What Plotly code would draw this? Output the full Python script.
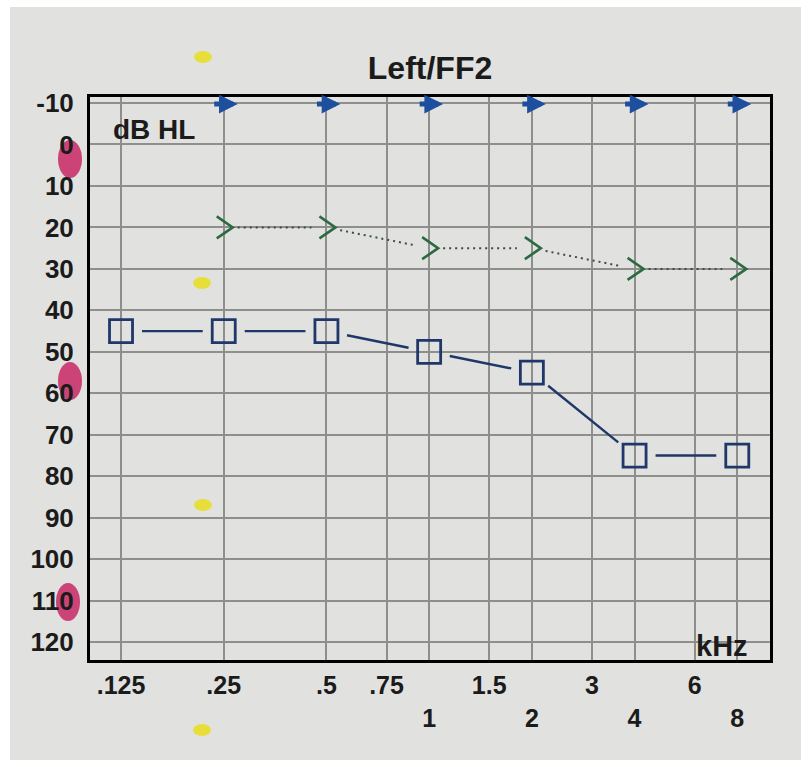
import math
import plotly.graph_objects as go

# Audiogram data (frequency in kHz, hearing level in dB HL)
freq_ac = [0.125, 0.25, 0.5, 1, 2, 4, 8]
level_ac = [45, 45, 45, 50, 55, 75, 75]

freq_bc = [0.25, 0.5, 1, 2, 4, 8]
level_bc = [20, 20, 25, 25, 30, 30]

freq_arrow = [0.25, 0.5, 1, 2, 4, 8]
level_arrow = -10

x_tickvals = [0.125, 0.25, 0.5, 0.75, 1, 1.5, 2, 3, 4, 6, 8]
x_ticktext = [".125", ".25", ".5", ".75", "<br>1", "1.5", "<br>2", "3", "<br>4", "6", "<br>8"]
y_tickvals = list(range(-10, 121, 10))
y_ticktext = [str(v) for v in y_tickvals]

# Canvas / plot geometry
W, H = 809, 767
ML, MR, MT, MB = 90, 39, 97, 107
PW, PH = W - ML - MR, H - MT - MB
X_RANGE = [-0.994, 0.999]          # log10(kHz)
Y_RANGE = [124.3, -11.45]          # reversed dB axis
KX = PW / (X_RANGE[1] - X_RANGE[0])   # px per decade
KY = PH / (Y_RANGE[0] - Y_RANGE[1])   # px per dB

PAPER = "#e1e2e0"
NAVY = "#1f3769"
BLUE = "#1d4f9e"
GREEN = "#2d6a42"
GRID = "#8e8f8d"
INK = "#1b1b1b"
FONT = "Liberation Sans, Arial"


def trimmed_segments(fs, vs, gap_start, gap_end):
    """Connecting segments that stop short of each symbol."""
    xs, ys = [], []
    for (f1, v1), (f2, v2) in zip(zip(fs, vs), zip(fs[1:], vs[1:])):
        u1, w1 = math.log10(f1) * KX, v1 * KY
        u2, w2 = math.log10(f2) * KX, v2 * KY
        d = math.hypot(u2 - u1, w2 - w1)
        du, dw = (u2 - u1) / d, (w2 - w1) / d
        a = (u1 + du * gap_start, w1 + dw * gap_start)
        b = (u2 - du * gap_end, w2 - dw * gap_end)
        xs += [10 ** (a[0] / KX), 10 ** (b[0] / KX), None]
        ys += [a[1] / KY, b[1] / KY, None]
    return xs, ys


def chevrons(fs, vs, left_px=7, tip_px=9, half_px=11):
    """'>' symbols drawn as small polylines around each point."""
    xs, ys = [], []
    for f, v in zip(fs, vs):
        xl = f * 10 ** (-left_px / KX)
        xt = f * 10 ** (tip_px / KX)
        dv = half_px / KY
        xs += [xl, xt, xl, None]
        ys += [v - dv, v, v + dv, None]
    return xs, ys


fig = go.Figure()

# Air conduction: connecting line + open squares
lx, ly = trimmed_segments(freq_ac, level_ac, 21, 21)
fig.add_trace(go.Scatter(x=lx, y=ly, mode="lines",
                         line=dict(color=NAVY, width=2.4),
                         hoverinfo="skip", showlegend=False))
fig.add_trace(go.Scatter(x=freq_ac, y=level_ac, mode="markers",
                         marker=dict(symbol="square-open", size=23,
                                     color=NAVY, line=dict(width=2.8, color=NAVY)),
                         showlegend=False))

# Bone conduction: dotted connecting line + '>' symbols
dx, dy = trimmed_segments(freq_bc, level_bc, 14, 15)
fig.add_trace(go.Scatter(x=dx, y=dy, mode="lines",
                         line=dict(color="#3a4d40", width=2, dash="2px,4px"),
                         hoverinfo="skip", showlegend=False))
cx, cy = chevrons(freq_bc, level_bc)
fig.add_trace(go.Scatter(x=cx, y=cy, mode="lines",
                         line=dict(color=GREEN, width=2.6),
                         hoverinfo="skip", showlegend=False))

# Arrows along the top row
annotations = []
for f in freq_arrow:
    annotations.append(dict(
        x=math.log10(f), y=level_arrow, xref="x", yref="y",
        text="", showarrow=True, ax=-25, ay=0, axref="pixel", ayref="pixel",
        xshift=14, yshift=-1, arrowhead=2, arrowsize=0.75, arrowwidth=5,
        arrowcolor=BLUE,
    ))

annotations += [
    dict(text="<b>dB HL</b>", xref="paper", yref="paper", x=21 / PW, y=(PH - 32) / PH,
         xanchor="left", yanchor="middle", showarrow=False,
         font=dict(family=FONT, size=28, color=INK)),
    dict(text="<b>kHz</b>", xref="paper", yref="paper", x=(PW - 20) / PW, y=14 / PH,
         xanchor="right", yanchor="middle", showarrow=False,
         font=dict(family=FONT, size=29, color=INK)),
]

# Paper sheet, pen marks
def px_rect(x0, y0, x1, y1):
    return dict(x0=(x0 - ML) / PW, x1=(x1 - ML) / PW,
                y0=(MT + PH - y1) / PH, y1=(MT + PH - y0) / PH)

shapes = [dict(type="rect", xref="paper", yref="paper", layer="below",
               fillcolor=PAPER, line=dict(width=0), **px_rect(10, 7, 801, 760))]
for cxp, cyp in [(70, 159), (70, 381), (68, 602)]:
    shapes.append(dict(type="circle", xref="paper", yref="paper", layer="below",
                       fillcolor="rgba(200,40,100,0.85)", line=dict(width=0),
                       **px_rect(cxp - 12, cyp - 19, cxp + 12, cyp + 19)))
for cxp, cyp in [(203, 57), (202, 283), (203, 505), (202, 730)]:
    shapes.append(dict(type="circle", xref="paper", yref="paper", layer="below",
                       fillcolor="rgba(232,222,40,0.9)", line=dict(width=0),
                       **px_rect(cxp - 9, cyp - 6, cxp + 9, cyp + 6)))

x_tick_font = dict(family=FONT, size=25, color=INK, weight="bold")
y_tick_font = dict(family=FONT, size=26, color=INK, weight="bold")

fig.update_layout(
    width=W, height=H,
    margin=dict(l=ML, r=MR, t=MT, b=MB, pad=0, autoexpand=False),
    paper_bgcolor="white", plot_bgcolor=PAPER,
    title=dict(text="<b>Left/FF2</b>", x=(ML + PW / 2) / W, xanchor="center",
               y=1 - 68 / H, yanchor="middle",
               font=dict(family=FONT, size=32, color=INK)),
    annotations=annotations, shapes=shapes,
    showlegend=False,
)
fig.update_xaxes(type="log", range=X_RANGE, tickvals=x_tickvals, ticktext=x_ticktext,
                 showgrid=True, gridcolor=GRID, gridwidth=2,
                 showline=True, linecolor="black", linewidth=3, mirror=True,
                 ticks="", ticklabelstandoff=1, tickfont=x_tick_font, zeroline=False)
fig.update_yaxes(range=Y_RANGE, tickvals=y_tickvals, ticktext=y_ticktext,
                 showgrid=True, gridcolor=GRID, gridwidth=2,
                 showline=True, linecolor="black", linewidth=3, mirror=True,
                 ticks="", ticklabelstandoff=8, tickfont=y_tick_font, zeroline=False)

fig.write_html("out.html")
